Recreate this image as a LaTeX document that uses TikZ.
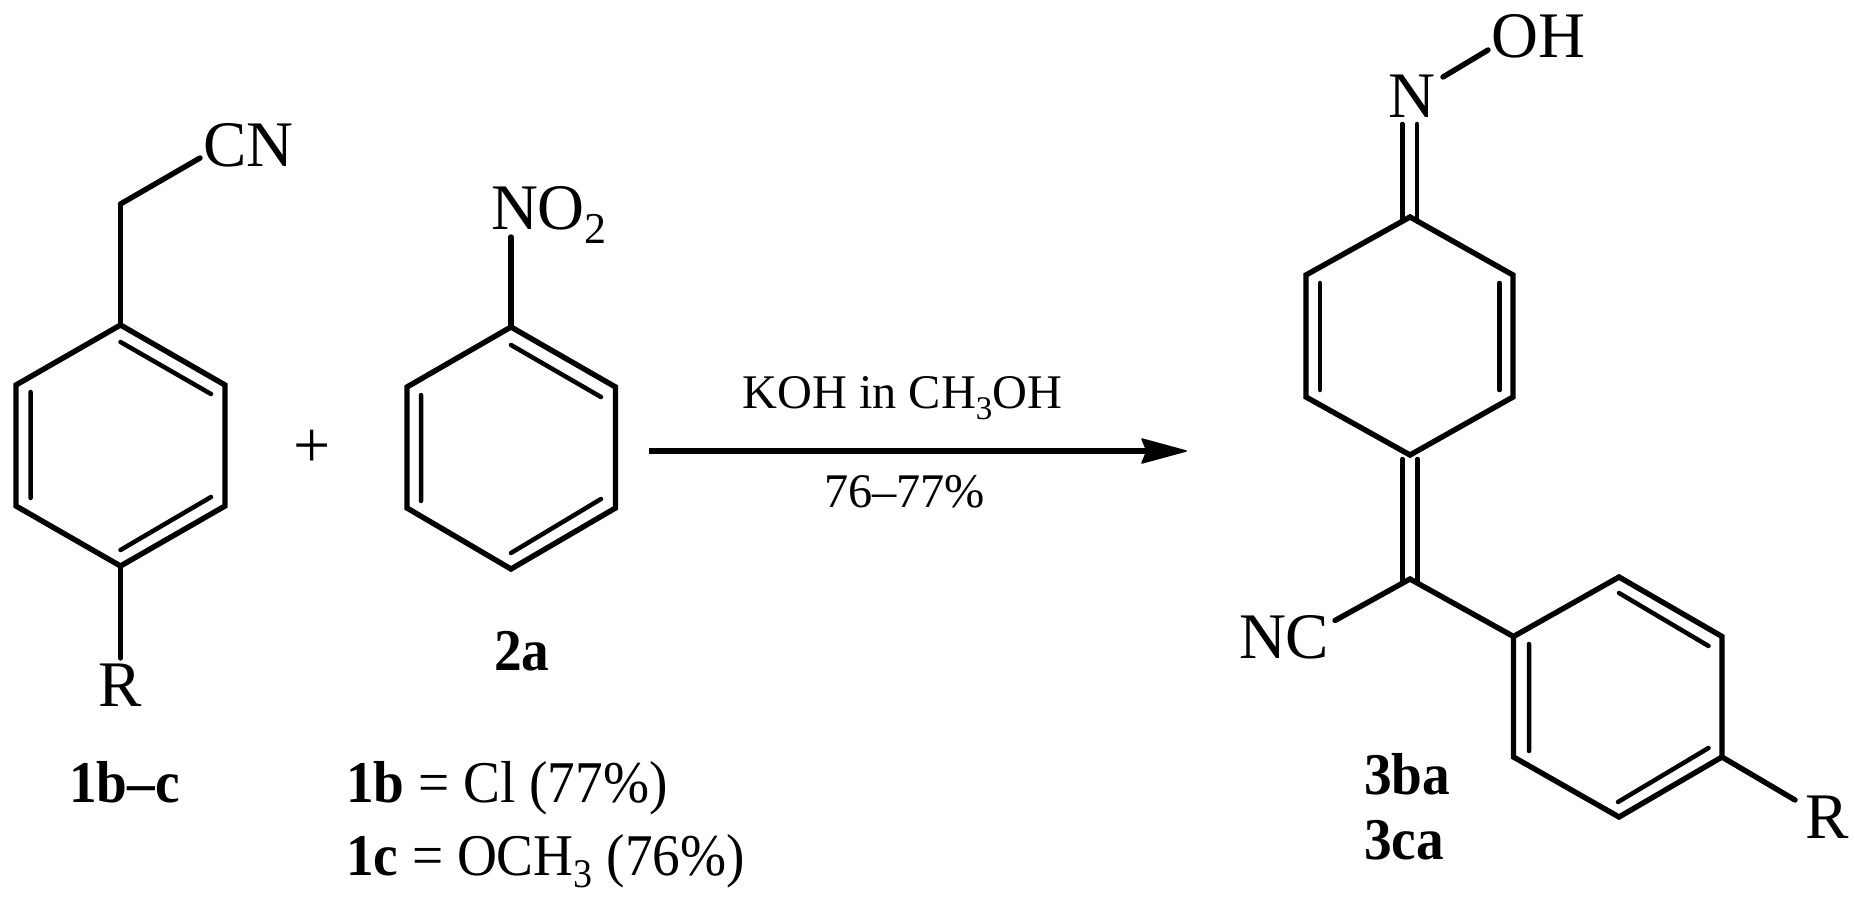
\documentclass[tikz,border=0pt]{standalone}
\usepackage{graphicx}
\usepackage{fontspec}
\setmainfont{Liberation Serif}
\newcommand\fsz[1]{\fontsize{#1}{#1}\selectfont}
\newcommand\sbs[3]{\raisebox{-#1pt}{\fsz{#2}#3}}
\newcommand\tallt[1]{\scalebox{1}[1.07]{#1}}
\tikzset{
  bond/.style={line width=5.4pt,line join=miter,line cap=butt},
  endbond/.style={line width=5.4pt,line cap=round},
  innerbond/.style={line width=4.5pt,line cap=round},
  lab/.style={inner sep=0pt,outer sep=0pt,anchor=base west,font=\fsz{65}},
  rxn/.style={inner sep=0pt,outer sep=0pt,anchor=base west,font=\fsz{48.3}},
  captxt/.style={inner sep=0pt,outer sep=0pt,anchor=base west,font=\fsz{55.3}}
}
\begin{document}
\begin{tikzpicture}[x=1pt,y=-1pt]
\useasboundingbox[fill=white] (0,0) rectangle (1855,902);
% ---- compound 1
\coordinate (a1) at (120.5,325);
\coordinate (a2) at (225,385);
\coordinate (a3) at (225,506);
\coordinate (a4) at (120.5,566);
\coordinate (a5) at (16,506);
\coordinate (a6) at (16,385);
\coordinate (ach) at (120.5,204);
\coordinate (acn) at (200,158);
\coordinate (ar) at (120.5,658);
\coordinate (ai1) at (120.5,342);
\coordinate (ai2) at (211,394);
\coordinate (ai3) at (211,497);
\coordinate (ai4) at (120.5,550);
\coordinate (ai5) at (30.6,392);
\coordinate (ai6) at (30.6,498);
\draw[bond] (a1)--(a2)--(a3)--(a4)--(a5)--(a6)--cycle;
\draw[innerbond] (ai1)--(ai2) (ai3)--(ai4) (ai5)--(ai6);
\draw[bond] (a1)--(ach);
\draw[endbond] (ach)--(acn);
\draw[endbond] (a4)--(ar);
\node[lab] (tcn) at (203,166) {CN};
\node[lab] (tr1) at (98.5,706.5) {R};
% ---- compound 2
\coordinate (b1) at (511,327);
\coordinate (b2) at (615.5,387);
\coordinate (b3) at (615.5,508);
\coordinate (b4) at (511,569);
\coordinate (b5) at (407,508);
\coordinate (b6) at (407,387);
\coordinate (bno) at (511,237);
\coordinate (bi1) at (511,345);
\coordinate (bi2) at (601,397);
\coordinate (bi3) at (601,499);
\coordinate (bi4) at (511,553);
\coordinate (bi5) at (421,395);
\coordinate (bi6) at (421,501);
\draw[bond] (b1)--(b2)--(b3)--(b4)--(b5)--(b6)--cycle;
\draw[innerbond] (bi1)--(bi2) (bi3)--(bi4) (bi5)--(bi6);
\draw[endbond] (b1)--(bno);
\node[lab] (tno) at (491,229) {NO\sbs{14}{44}{2}};
\node[lab,font=\fsz{66}] (tplus) at (293.5,467) {+};
% ---- captions
\node[captxt] (t2a) at (494,670) {\tallt{\textbf{2a}}};
\node[captxt] (t1bc) at (69,802) {\tallt{\textbf{1b\textendash c}}};
\node[captxt] (t1b) at (346,802) {\tallt{\textbf{1b} = Cl (77\%)}};
\node[captxt] (t1c) at (346,875) {\tallt{\textbf{1c} = OCH\sbs{12}{38}{3} (76\%)}};
% ---- arrow
\coordinate (as) at (649,451);
\coordinate (ae) at (1147,451);
\coordinate (atip) at (1186,451);
\coordinate (au) at (1142,439);
\coordinate (ad) at (1142,463);
\draw[line width=5.5pt] (as)--(ae);
\fill[draw,line width=1.5pt,line join=round] (atip)--(au)--(ae)--(ad)--cycle;
\node[rxn] (tkoh) at (742.5,408) {KOH in CH\sbs{11}{33}{3}OH};
\node[rxn] (tyld) at (824,507) {76\textendash 77\%};
% ---- product
\coordinate (c1) at (1410,217);
\coordinate (c2) at (1513,275);
\coordinate (c3) at (1513,397);
\coordinate (c4) at (1410,455);
\coordinate (c5) at (1306,397);
\coordinate (c6) at (1306,275);
\coordinate (ci1) at (1320,283);
\coordinate (ci2) at (1320,390);
\coordinate (ci3) at (1499.5,283);
\coordinate (ci4) at (1499.5,390);
\draw[bond] (c1)--(c2)--(c3)--(c4)--(c5)--(c6)--cycle;
\draw[innerbond] (ci1)--(ci2) (ci3)--(ci4);
\coordinate (nl) at (1402.5,124);
\coordinate (nr) at (1417,124);
\coordinate (rl) at (1402.5,221);
\coordinate (rr) at (1417,221);
\draw[innerbond] (nl)--(rl) (nr)--(rr);
\coordinate (no) at (1443,77);
\coordinate (on) at (1488,50);
\draw[endbond] (no)--(on);
\node[lab] (tn) at (1388,117) {N};
\node[lab] (toh) at (1491.5,57) {OH};
\coordinate (ctr) at (1410,579);
\coordinate (el) at (1402.5,459);
\coordinate (er) at (1417.5,459);
\coordinate (fl) at (1402.5,583);
\coordinate (fr) at (1417.5,583);
\draw[innerbond] (el)--(fl) (er)--(fr);
\coordinate (nce) at (1335,620.5);
\coordinate (d1) at (1513.5,636.5);
\coordinate (d2) at (1619,577);
\coordinate (d3) at (1722,636.5);
\coordinate (d4) at (1722,757);
\coordinate (d5) at (1619,817);
\coordinate (d6) at (1513.5,757);
\coordinate (dr) at (1795,800);
\coordinate (di1) at (1619,593);
\coordinate (di2) at (1708.5,646);
\coordinate (di3) at (1708.5,748);
\coordinate (di4) at (1618,802);
\coordinate (di5) at (1529,644);
\coordinate (di6) at (1529,751);
\draw[bond] (d1)--(d2)--(d3)--(d4)--(d5)--(d6)--cycle;
\draw[innerbond] (di1)--(di2) (di3)--(di4) (di5)--(di6);
\draw[endbond] (ctr)--(nce);
\draw[bond,line cap=round] (ctr)--(d1);
\draw[endbond] (d4)--(dr);
\node[lab] (tnc) at (1239,658) {NC};
\node[lab] (tr2) at (1805,838) {R};
\node[captxt] (t3ba) at (1364,794) {\tallt{\textbf{3ba}}};
\node[captxt] (t3ca) at (1364,859) {\tallt{\textbf{3ca}}};
\end{tikzpicture}
\end{document}
